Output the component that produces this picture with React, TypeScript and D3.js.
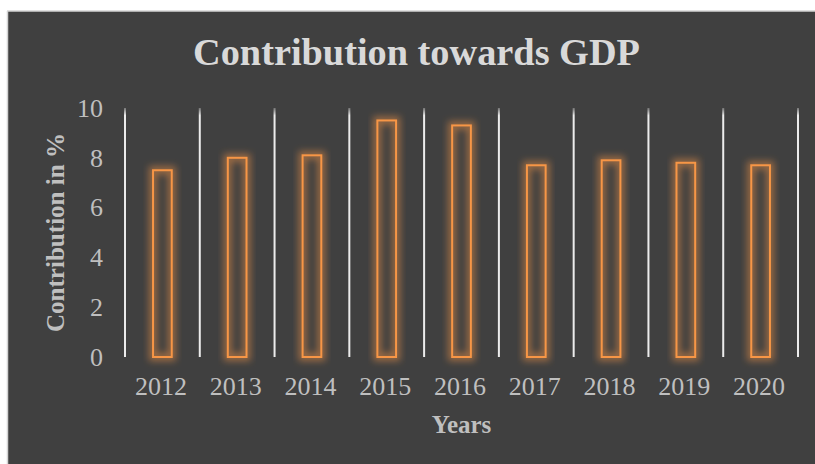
import React from "react";
import * as d3 from "d3";

const years = ["2012", "2013", "2014", "2015", "2016", "2017", "2018", "2019", "2020"];
const contribution = [7.5, 8.0, 8.1, 9.5, 9.3, 7.7, 7.9, 7.8, 7.7];
const yTicks = [0, 2, 4, 6, 8, 10];
const titleText = "Contribution towards GDP";
const xTitle = "Years";
const yTitle = "Contribution in %";

const W = 815;
const H = 464;
const FONT = "'Liberation Serif', 'Times New Roman', serif";

export default function App() {
  const x = d3.scaleBand<string>().domain(years).range([125, 798]).padding(0);
  const y = d3.scaleLinear().domain([0, 10]).range([357, 108]);
  const bw = x.bandwidth() * 0.25;
  const separators = [...years.map((yr) => x(yr) as number), 798];

  return (
    <svg
      width={W}
      height={H}
      style={{ position: "absolute", left: 0, top: 0, display: "block" }}
    >
      <defs>
        <filter id="glow" x="-50%" y="-20%" width="200%" height="140%">
          <feGaussianBlur stdDeviation="3.5" />
        </filter>
        <linearGradient id="gridFade" x1="0" y1="0" x2="0" y2="1">
          <stop offset="0" stopColor="#d9d9d9" stopOpacity="0.35" />
          <stop offset="0.03" stopColor="#ececec" stopOpacity="1" />
          <stop offset="1" stopColor="#ececec" stopOpacity="1" />
        </linearGradient>
      </defs>
      <rect x={0} y={0} width={W} height={H} fill="#ffffff" />
      <rect x={8} y={11} width={W - 8} height={H - 11} fill="#404040" />
      <line x1={7.5} y1={11} x2={7.5} y2={H} stroke="#d4d4d4" strokeWidth={1.5} />
      <line x1={7} y1={11} x2={W} y2={11} stroke="#d4d4d4" strokeWidth={1.5} />

      <text
        x={416.5}
        y={65}
        textAnchor="middle"
        fontFamily={FONT}
        fontWeight="bold"
        fontSize={38}
        fill="#d9d9d9"
        textLength={447}
        lengthAdjust="spacingAndGlyphs"
      >
        {titleText}
      </text>

      {separators.map((sx, i) => (
        <rect
          key={"sep" + i}
          x={sx - 1}
          y={y(10)}
          width={2}
          height={y(0) - y(10)}
          fill="url(#gridFade)"
        />
      ))}

      {yTicks.map((t) => (
        <text
          key={"yt" + t}
          x={103}
          y={y(t)}
          dy="0.34em"
          textAnchor="end"
          fontFamily={FONT}
          fontSize={26}
          fill="#bfbfbf"
        >
          {t}
        </text>
      ))}

      {years.map((yr, i) => {
        const cx = (x(yr) as number) + x.bandwidth() / 2;
        const top = y(contribution[i]);
        const bottom = y(0);
        return (
          <g key={"bar" + yr}>
            <rect
              x={cx - bw / 2}
              y={top}
              width={bw}
              height={bottom - top}
              fill="none"
              stroke="#f79646"
              strokeOpacity={0.5}
              strokeWidth={8}
              filter="url(#glow)"
            />
            <rect
              x={cx - bw / 2}
              y={top}
              width={bw}
              height={bottom - top}
              fill="none"
              stroke="#f79646"
              strokeWidth={2}
            />
          </g>
        );
      })}

      {years.map((yr) => (
        <text
          key={"xl" + yr}
          x={(x(yr) as number) + x.bandwidth() / 2 - 1.5}
          y={395}
          textAnchor="middle"
          fontFamily={FONT}
          fontSize={26}
          fill="#bfbfbf"
        >
          {yr}
        </text>
      ))}

      <text
        x={461.5}
        y={433}
        textAnchor="middle"
        fontFamily={FONT}
        fontWeight="bold"
        fontSize={25}
        fill="#bfbfbf"
      >
        {xTitle}
      </text>

      <text
        transform={`translate(64, 232.5) rotate(-90)`}
        textAnchor="middle"
        fontFamily={FONT}
        fontWeight="bold"
        fontSize={25}
        fill="#bfbfbf"
        textLength={199}
        lengthAdjust="spacingAndGlyphs"
      >
        {yTitle}
      </text>
    </svg>
  );
}
